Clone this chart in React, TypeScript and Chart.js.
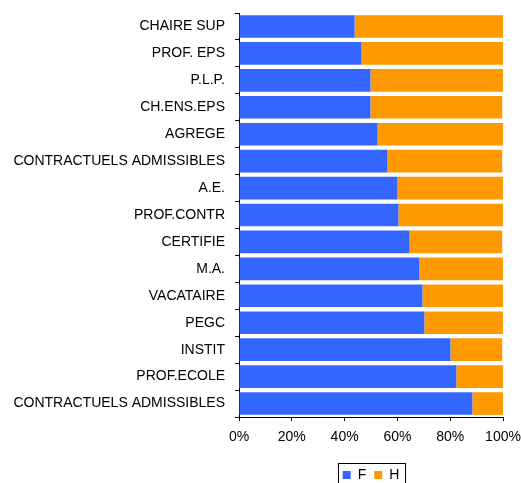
import React, { useEffect, useRef } from "react";
import { Chart, registerables } from "chart.js";

Chart.register(...registerables);

const categories = [
  "CHAIRE SUP",
  "PROF. EPS",
  "P.L.P.",
  "CH.ENS.EPS",
  "AGREGE",
  "CONTRACTUELS ADMISSIBLES",
  "A.E.",
  "PROF.CONTR",
  "CERTIFIE",
  "M.A.",
  "VACATAIRE",
  "PEGC",
  "INSTIT",
  "PROF.ECOLE",
  "CONTRACTUELS ADMISSIBLES",
];

const valuesF = [43.8, 46.4, 49.8, 49.8, 52.5, 56.2, 60.0, 60.4, 64.6, 68.3, 69.5, 70.2, 80.1, 82.3, 88.4];
const valuesH = [56.2, 53.6, 50.2, 49.9, 47.5, 43.5, 40.0, 39.6, 35.1, 31.7, 30.5, 29.8, 19.6, 17.7, 11.6];

const xTicks = [0, 20, 40, 60, 80, 100];

const FONT = "'Liberation Sans', Arial, sans-serif";

const legendBorder = {
  id: "legendBorder",
  afterDraw(chart: any) {
    const lg = chart.legend;
    if (!lg || !lg.legendHitBoxes || !lg.legendHitBoxes.length) return;
    const hb = lg.legendHitBoxes;
    let l = Infinity, r = -Infinity, t = Infinity, b = -Infinity;
    hb.forEach((h: any) => {
      l = Math.min(l, h.left);
      r = Math.max(r, h.left + h.width);
      t = Math.min(t, h.top);
      b = Math.max(b, h.top + h.height);
    });
    const cy = (t + b) / 2;
    const ctx = chart.ctx;
    ctx.save();
    ctx.strokeStyle = "#000";
    ctx.lineWidth = 1;
    ctx.strokeRect(Math.round(l - 5) + 0.5, Math.round(cy - 12) + 0.5, Math.round(r - l + 10), 22);
    ctx.restore();
  },
};

export default function App() {
  const ref = useRef<HTMLCanvasElement>(null);
  useEffect(() => {
    document.body.style.margin = "0";
    document.body.style.overflow = "hidden";
    const chart = new Chart(ref.current!, {
      type: "bar",
      data: {
        labels: categories,
        datasets: [
          { label: "F", data: valuesF, backgroundColor: "#3366FF", borderWidth: 0, barPercentage: 0.84, categoryPercentage: 1 },
          { label: "H", data: valuesH, backgroundColor: "#FF9900", borderWidth: 0, barPercentage: 0.84, categoryPercentage: 1 },
        ],
      },
      options: {
        indexAxis: "y",
        animation: false,
        responsive: true,
        maintainAspectRatio: false,
        layout: { padding: { top: 13, right: 18, left: 0, bottom: 0 } },
        scales: {
          x: {
            stacked: true,
            min: 0,
            max: 100,
            afterBuildTicks(scale: any) {
              scale.ticks = xTicks.map((v) => ({ value: v }));
            },
            afterFit(scale: any) {
              scale.height = 43;
              scale.paddingLeft = 0;
              scale.paddingRight = 0;
            },
            ticks: {
              color: "#000",
              font: { family: FONT, size: 14 },
              padding: 8,
              maxRotation: 0,
              callback: (v: any) => v + "%",
            },
            grid: { drawOnChartArea: false, drawTicks: true, tickLength: 4, color: "#000" },
            border: { display: true, color: "#000", width: 1 },
          },
          y: {
            stacked: true,
            afterFit(scale: any) {
              scale.width = 239;
              scale.paddingTop = 0;
              scale.paddingBottom = 0;
            },
            ticks: {
              color: "#000",
              font: { family: FONT, size: 14 },
              padding: 10,
              autoSkip: false,
            },
            grid: { drawOnChartArea: false, drawTicks: true, tickLength: 4, color: "#000", offset: true },
            border: { display: true, color: "#000", width: 1 },
          },
        },
        plugins: {
          legend: {
            position: "bottom",
            fullSize: false,
            labels: {
              boxWidth: 8,
              boxHeight: 8,
              padding: 8,
              color: "#000",
              font: { family: FONT, size: 14 },
            },
          },
          tooltip: { enabled: false },
        },
      },
      plugins: [legendBorder],
    });
    return () => chart.destroy();
  }, []);
  return (
    <div style={{ position: "absolute", left: 0, top: 0, width: 521, height: 492 }}>
      <canvas ref={ref} />
    </div>
  );
}
